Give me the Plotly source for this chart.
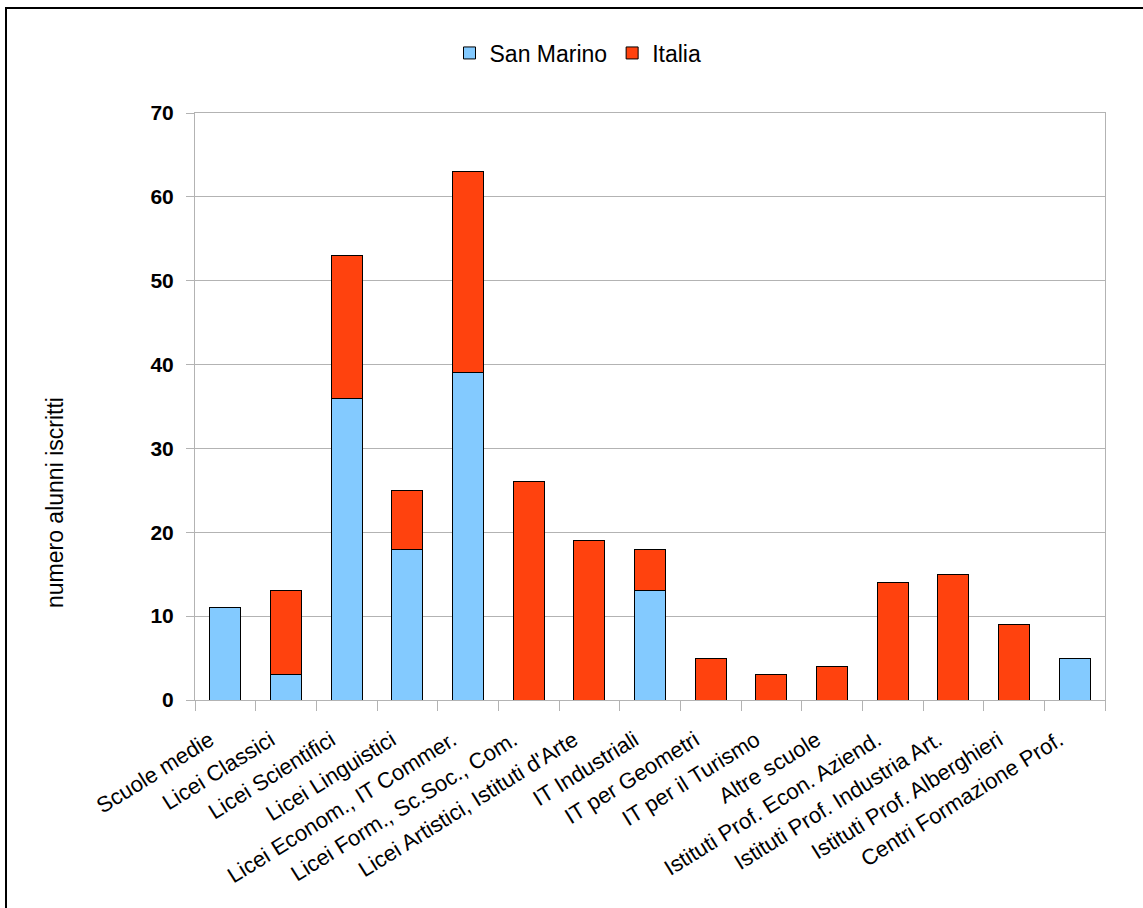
import plotly.graph_objects as go

categories = ["Scuole medie", "Licei Classici", "Licei Scientifici", "Licei Linguistici",
              "Licei Econom., IT Commer.", "Licei Form., Sc.Soc., Com.",
              "Licei Artistici, Istituti d'Arte", "IT Industriali", "IT per Geometri",
              "IT per il Turismo", "Altre scuole", "Istituti Prof. Econ. Aziend.",
              "Istituti Prof. Industria Art.", "Istituti Prof. Alberghieri",
              "Centri Formazione Prof."]
san_marino = [11, 3, 36, 18, 39, 0, 0, 13, 0, 0, 0, 0, 0, 0, 5]
italia = [0, 10, 17, 7, 24, 26, 19, 5, 5, 3, 4, 14, 15, 9, 0]
y_ticks = [0, 10, 20, 30, 40, 50, 60, 70]

W, H = 1143, 908
L, R, T, B = 195, 38, 113, 208
pw, ph = W - L - R, H - T - B
FONT = "Liberation Sans, Arial, sans-serif"

fig = go.Figure()
fig.add_trace(go.Bar(name="San Marino", x=categories, y=san_marino,
                     marker=dict(color="#83CAFF", line=dict(color="black", width=1))))
fig.add_trace(go.Bar(name="Italia", x=categories, y=italia,
                     marker=dict(color="#FF420E", line=dict(color="black", width=1))))

fig.update_layout(
    barmode="stack", bargap=0.49,
    width=W, height=H,
    margin=dict(l=L, r=R, t=T, b=B, pad=0),
    paper_bgcolor="white", plot_bgcolor="white",
    font=dict(family=FONT, color="black"),
    legend=dict(orientation="h", x=(578 - L) / pw, xanchor="center",
                y=(H - B - 53) / ph, yanchor="middle",
                font=dict(size=23), traceorder="normal", itemwidth=30),
    xaxis=dict(tickangle=-32, tickfont=dict(size=22), ticks="outside", tickson="boundaries",
               ticklen=10, tickcolor="#b3b3b3", showline=True, linecolor="#b3b3b3",
               mirror=True, showgrid=False, ticklabelstandoff=8,
               tickmode="array", tickvals=categories,
               ticktext=[c + "\u00a0\u00a0\u00a0" for c in categories]),
    yaxis=dict(range=[0, 70], tickvals=y_ticks,
               tickfont=dict(size=21, family=FONT, weight="bold"),
               ticks="outside", ticklen=8, tickcolor="#b3b3b3", showline=True,
               linecolor="#b3b3b3", mirror=True, gridcolor="#b3b3b3", zeroline=False,
               ticklabelstandoff=8),
)

fig.add_annotation(text="numero alunni iscritti", xref="paper", yref="paper",
                   x=(55 - L) / pw, y=(H - B - 503) / ph, xanchor="center", yanchor="middle",
                   textangle=-90, showarrow=False, font=dict(size=23, family=FONT))

# outer frame
x0 = (6 - L) / pw
x1 = (W + 5 - L) / pw
y1 = (H - B - 8) / ph
y0 = (H - B - (H + 5)) / ph
fig.add_shape(type="rect", xref="paper", yref="paper", x0=x0, x1=x1, y0=y0, y1=y1,
              line=dict(color="black", width=2), layer="below")

fig.write_html("out.html")
